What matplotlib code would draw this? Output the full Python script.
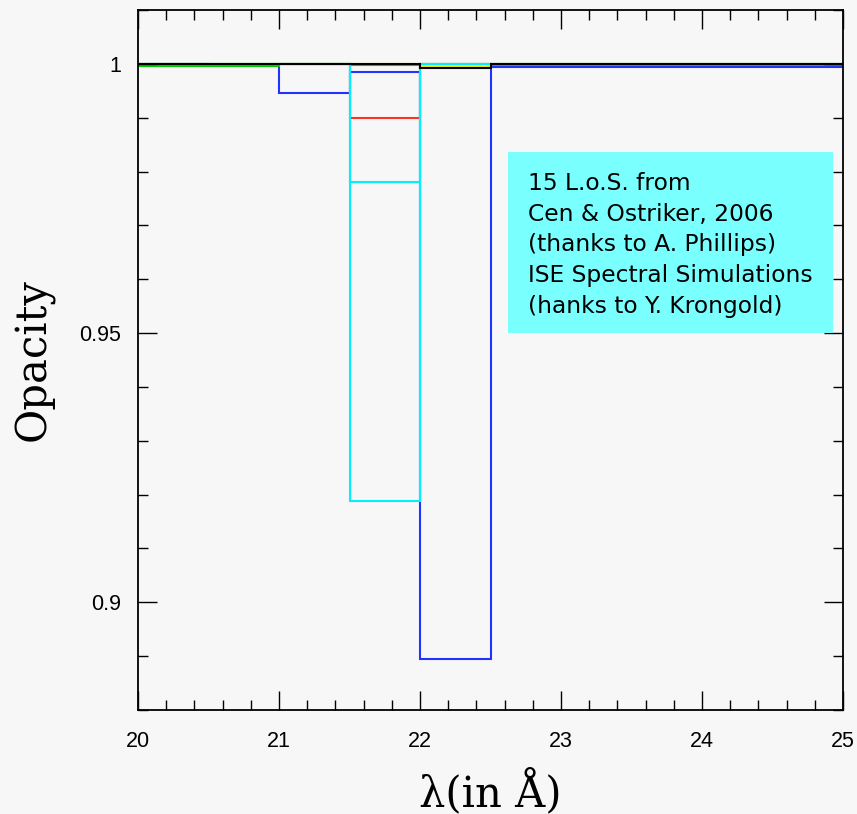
import matplotlib
matplotlib.use("Agg")
import matplotlib.pyplot as plt
from matplotlib.patches import Rectangle
from matplotlib.ticker import MultipleLocator
import numpy as np

# bin edges (Angstrom)
edges = [20.0, 20.5, 21.0, 21.5, 22.0, 22.5, 23.0, 23.5, 24.0, 24.5, 25.0]

# opacity per bin for each line of sight
blue = [1.0, 0.9997, 0.9945, 0.99855, 0.8895, 0.99935, 0.99935, 0.99935, 0.99935, 0.99935]
green = [0.9996, 0.9996, 1.0, 0.9997, 1.0, 0.9997, 0.9997, 0.9997, 0.9997, 0.9997]
red = [1.0, 1.0, 1.0, 0.990, 1.0, 1.0, 1.0, 1.0, 1.0, 1.0]
cyan_a = [1.0, 1.0, 1.0, 0.9781, 1.0, 1.0, 1.0, 1.0, 1.0, 1.0]
cyan_b = [1.0, 1.0, 1.0, 0.9189, 1.0, 1.0, 1.0, 1.0, 1.0, 1.0]
yellow = [1.0, 1.0, 1.0, 1.0, 0.99966, 1.0, 1.0, 1.0, 1.0, 1.0]
black = [1.0, 1.0, 1.0, 1.0, 0.9993, 1.0, 1.0, 1.0, 1.0, 1.0]

series = [
    (blue, "#2233ff"),
    (green, "#00cc00"),
    (red, "#ff3322"),
    (cyan_a, "#00f0ff"),
    (cyan_b, "#00f0ff"),
    (yellow, "#ffee00"),
    (black, "#000000"),
]

note = ("15 L.o.S. from\nCen & Ostriker, 2006\n(thanks to A. Phillips)\n"
        "ISE Spectral Simulations\n(hanks to Y. Krongold)")

bg = "#f7f7f7"
fig = plt.figure(figsize=(8.57, 8.14), dpi=100, facecolor=bg)
ax = fig.add_axes([138/857, 1-710/814, 705/857, 700/814], facecolor=bg)

for vals, col in series:
    ax.stairs(vals, edges, baseline=None, color=col, linewidth=1.5)

ax.set_xlim(20, 25)
ax.set_ylim(0.88, 1.01)
ax.xaxis.set_major_locator(MultipleLocator(1))
ax.xaxis.set_minor_locator(MultipleLocator(0.2))
ax.set_yticks([0.9, 0.95, 1.0])
ax.set_yticklabels(["0.9", "0.95", "1"])
ax.yaxis.set_minor_locator(MultipleLocator(0.01))
ax.tick_params(which="both", direction="in", top=True, right=True, width=1.0, color="black")
ax.tick_params(which="major", length=14)
ax.tick_params(which="minor", length=7)
ax.tick_params(axis="x", pad=15, labelsize=15.5)
ax.tick_params(axis="y", pad=12, labelsize=15.5)
for lab in ax.get_xticklabels() + ax.get_yticklabels():
    lab.set_fontfamily("Liberation Sans")
for sp in ax.spines.values():
    sp.set_linewidth(1.3)

ax.set_xlabel("λ(in Å)", fontfamily="DejaVu Serif", fontsize=30, labelpad=12)
ax.set_ylabel("Opacity", fontfamily="DejaVu Serif", fontsize=30, labelpad=18)

x0 = (508-138)/705
x1 = (833-138)/705
y0 = (710-333)/700
y1 = (710-152)/700
ax.add_patch(Rectangle((x0, y0), x1-x0, y1-y0, transform=ax.transAxes,
                       facecolor="#7affff", edgecolor="none", zorder=5))
ax.text((528-138)/705, (710-245)/700, note, transform=ax.transAxes, ha="left", va="center",
        fontsize=16.8, fontfamily="DejaVu Sans", linespacing=1.42, zorder=6)

fig.savefig("out.png", dpi=100, facecolor=bg)
